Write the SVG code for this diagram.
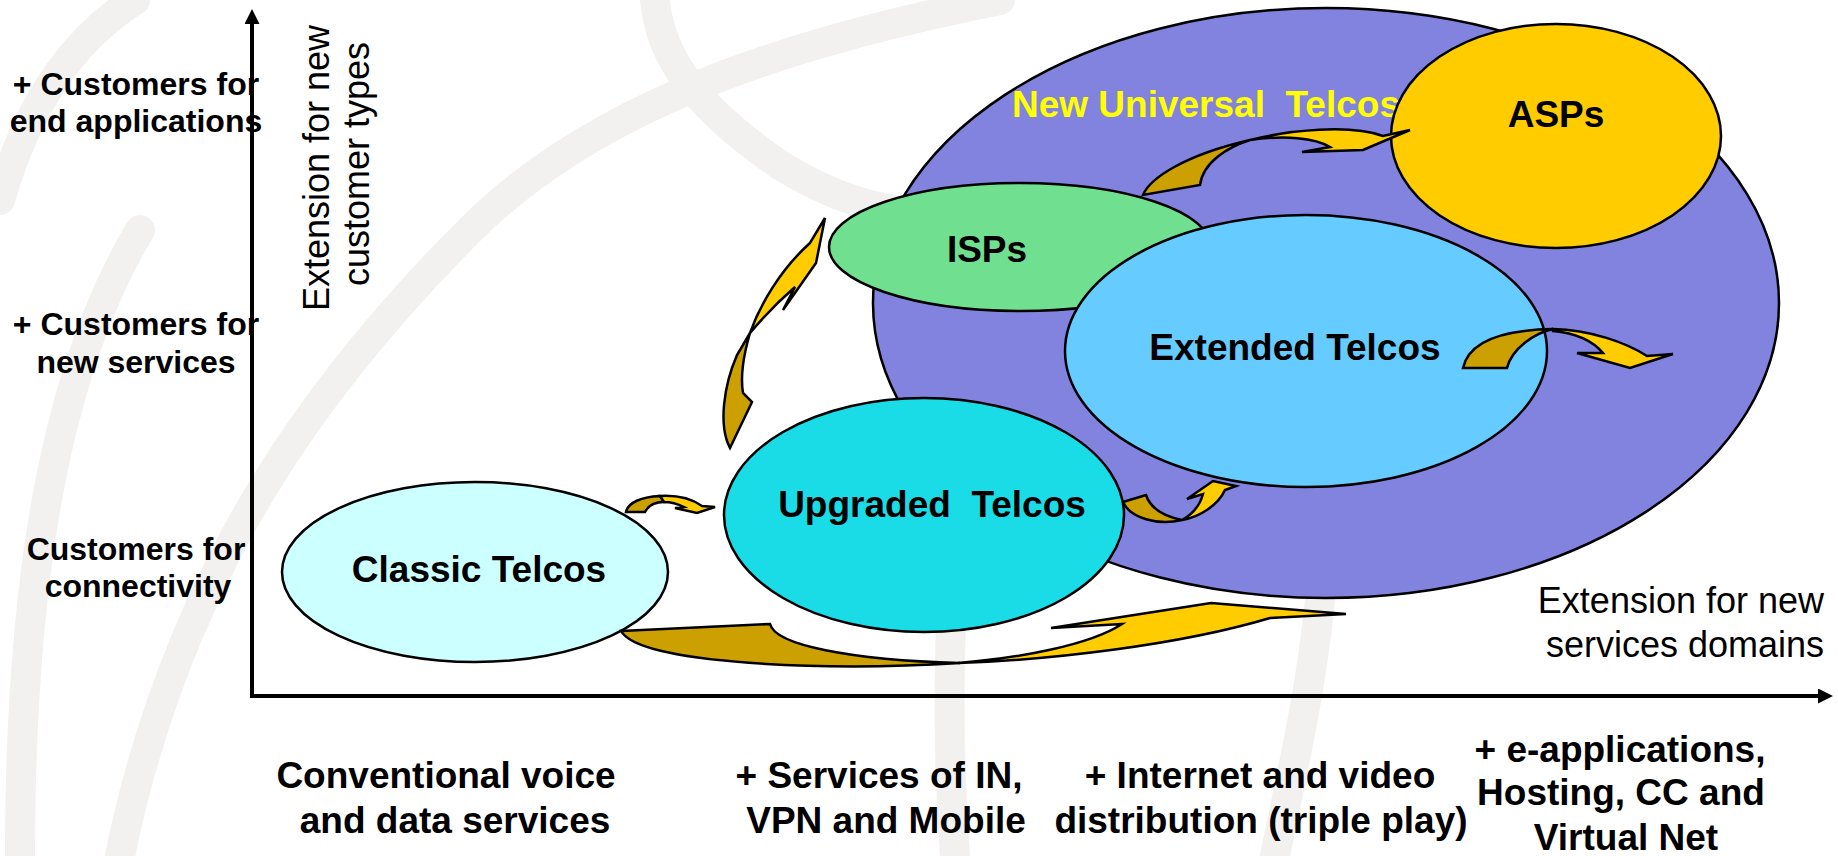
<svg xmlns="http://www.w3.org/2000/svg" width="1838" height="856" viewBox="0 0 1838 856">
<defs>
<style>
.wm{fill:none;stroke:#F2F1EF;stroke-width:30;stroke-linecap:round}
.ell{stroke:#000;stroke-width:2.5}
.b{font-family:"Liberation Sans",Arial,sans-serif;font-weight:bold;fill:#000;text-anchor:middle}
.lab{font-size:32px}
.big{font-size:37px}
.r{font-family:"Liberation Sans",Arial,sans-serif;font-size:36px;fill:#000}
.dk{fill:#CCA000;stroke:#000;stroke-width:2.5;stroke-linejoin:miter}
.br{fill:#FFCC00;stroke:#000;stroke-width:2.5;stroke-linejoin:miter}
.axis{stroke:#000;stroke-width:4;fill:none}
</style>
<marker id="ah" viewBox="0 0 15 15" refX="0" refY="7.5" markerWidth="15" markerHeight="15" markerUnits="userSpaceOnUse" orient="auto">
<path d="M0,0 L15,7.5 L0,15 Z" fill="#000"/>
</marker>
</defs>
<rect width="1838" height="856" fill="#fff"/>
<g id="watermark">
<path class="wm" d="M0,200 Q40,60 135,0"/>
<path class="wm" d="M655,0 C660,60 700,110 780,165 C820,190 860,205 895,210"/>
<path class="wm" d="M1000,0 C800,40 600,100 470,230 C330,370 180,560 120,856"/>
<path class="wm" d="M20,856 C20,600 50,380 140,230"/>
<path class="wm" d="M960,470 C950,600 945,720 955,856"/>
<path class="wm" d="M1320,600 C1310,700 1290,780 1275,856"/>
</g>
<g id="axes">
<line class="axis" x1="252" y1="698" x2="252" y2="24" marker-end="url(#ah)"/>
<line class="axis" x1="250" y1="696" x2="1818" y2="696" marker-end="url(#ah)"/>
</g>
<g id="new-universal-telcos">
<ellipse class="ell" cx="1326" cy="303" rx="453" ry="295" fill="#8282DF"/>
<text class="b big" x="1206" y="117" fill="#FFFF00" style="fill:#FFFF00;white-space:pre" xml:space="preserve">New Universal  Telcos</text>
</g>
<g id="asps">
<ellipse class="ell" cx="1556" cy="136" rx="165" ry="112" fill="#FFCC00"/>
<text class="b big" x="1556" y="127">ASPs</text>
</g>
<g id="isps">
<ellipse class="ell" cx="1020" cy="247" rx="191" ry="64" fill="#70E090"/>
<text class="b big" x="987" y="262">ISPs</text>
</g>
<g id="extended-telcos">
<ellipse class="ell" cx="1306" cy="351" rx="241" ry="136" fill="#66CCFF"/>
<text class="b big" x="1295" y="360">Extended Telcos</text>
</g>
<g id="upgraded-telcos">
<ellipse class="ell" cx="924" cy="515" rx="200" ry="117" fill="#19DCE6"/>
<text class="b big" x="932" y="517" style="white-space:pre" xml:space="preserve">Upgraded  Telcos</text>
</g>
<g id="classic-telcos">
<ellipse class="ell" cx="475" cy="572" rx="193" ry="90" fill="#CCFFFF"/>
<text class="b big" x="479" y="582">Classic Telcos</text>
</g>
<g id="connectors">
<path class="dk" d="M626,512 C628,503 640,497 660,496 L664,502 C655,502 648,506 645,512 Z"/>
<path class="br" d="M660,496 C678,495 692,499 702,506 L715,507 L697,513 L675,508 L684,507 C678,504 671,502 664,502 Z"/>
<path class="dk" d="M750,333 C745,350 740,375 743,393 L752,402 L730,448 C718,425 724,385 737,355 Z"/>
<path class="br" d="M750,333 C760,305 780,270 810,243 L825,218 L816,263 L783,310 L795,287 C780,300 765,315 750,333 Z"/>
<path class="dk" d="M1143,195 C1150,178 1185,155 1250,140 C1228,147 1203,162 1200,185 Z"/>
<path class="br" d="M1250,140 C1290,130 1350,124 1383,136 L1410,130 L1363,150 L1302,152 L1330,147 C1315,138 1285,135 1250,140 Z"/>
<path class="dk" d="M1463,368 C1468,345 1495,330 1553,329 C1535,333 1512,348 1507,368 Z"/>
<path class="br" d="M1553,329 C1590,330 1625,342 1647,356 L1673,354 L1630,368 L1577,353 L1603,353 C1592,340 1575,333 1553,331 Z"/>
<path class="dk" d="M1123,502 L1146,495 C1150,507 1162,516 1182,520 C1158,526 1130,518 1123,502 Z"/>
<path class="br" d="M1182,520 C1200,517 1218,505 1225,490 L1236,486 L1213,481 L1187,499 L1203,494 C1200,505 1193,514 1182,520 Z"/>
<path class="dk" d="M621,631 L770,624 C775,645 850,660 960,663 C830,671 640,665 621,631 Z"/>
<path class="br" d="M958,663 C1050,660 1180,645 1270,618 L1346,614 L1211,603 L1051,628 L1122,624 C1090,645 1020,658 958,663 Z"/>
</g>
<g id="y-labels">
<text class="b lab" x="136" y="95">+ Customers for</text>
<text class="b lab" x="136" y="132">end applications</text>
<text class="b lab" x="136" y="335">+ Customers for</text>
<text class="b lab" x="136" y="373">new services</text>
<text class="b lab" x="136" y="560">Customers for</text>
<text class="b lab" x="138" y="597">connectivity</text>
<text class="r" text-anchor="middle" transform="translate(329,168) rotate(-90)">Extension for new</text>
<text class="r" text-anchor="middle" transform="translate(369,164) rotate(-90)">customer types</text>
</g>
<g id="x-labels">
<text class="b big" x="446" y="788">Conventional voice</text>
<text class="b big" x="455" y="833">and data services</text>
<text class="b big" x="879" y="788">+ Services of IN,</text>
<text class="b big" x="886" y="833">VPN and Mobile</text>
<text class="b big" x="1260" y="788">+ Internet and video</text>
<text class="b big" x="1261" y="833">distribution (triple play)</text>
<text class="b big" x="1620" y="762">+ e-applications,</text>
<text class="b big" x="1621" y="805">Hosting, CC and</text>
<text class="b big" x="1626" y="850">Virtual Net</text>
<text class="r" text-anchor="end" x="1824" y="613">Extension for new</text>
<text class="r" text-anchor="end" x="1824" y="657">services domains</text>
</g>
</svg>
